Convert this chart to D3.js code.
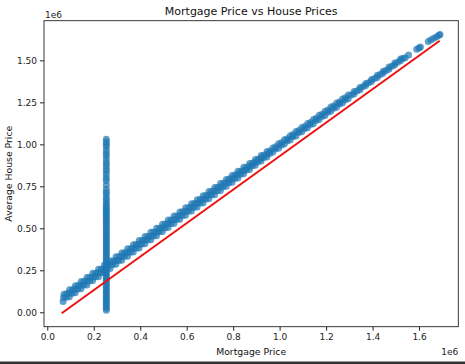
<!DOCTYPE html>
<html>
<head>
<meta charset="utf-8">
<script src="https://d3js.org/d3.v7.min.js"></script>
<style>
  body { margin: 0; background: #fff; }
  svg { display: block; font-family: "DejaVu Sans", sans-serif; }
  .tick text { fill: #222; }
  .tick line { stroke: #222; }
</style>
</head>
<body>
<div id="chart"></div>
<script>
// values in thousands
const xTicks = [0, 200, 400, 600, 800, 1000, 1200, 1400, 1600];
const yTicks = [0, 250, 500, 750, 1000, 1250, 1500];
const xTickLabels = ['0.0', '0.2', '0.4', '0.6', '0.8', '1.0', '1.2', '1.4', '1.6'];
const yTickLabels = ['0.00', '0.25', '0.50', '0.75', '1.00', '1.25', '1.50'];

// mortgage filled with one constant value for many rows
const fillMortgage = 254;
const fillHouse = [12, 24, 36, 48, 60, 72, 84, 96, 108, 120, 132, 144, 156, 168, 180, 192,
  204, 216, 228, 240, 252, 264, 276, 288, 300, 312, 324, 336, 348, 360, 372, 384, 396,
  408, 420, 432, 444, 456, 468, 480, 492, 504, 516, 528, 540, 552, 564, 576, 588, 600,
  612, 624, 636, 650, 665, 680, 700, 715, 733, 758, 785, 800, 820, 840, 855, 875, 890,
  910, 930, 945, 965, 985, 1000, 1015, 1030];

// main band [mortgage, house]
const bandPoints = [
  [68, 64], [70, 88], [72, 108], [95, 92], [95, 113], [96, 134], [120, 116], [120, 137], [121, 158],
  [145, 140], [145, 161], [146, 183], [170, 163], [170, 186], [171, 207], [195, 189], [195, 210], [196, 232],
  [220, 212], [220, 235], [221, 256], [245, 238], [245, 259], [246, 281], [270, 261], [270, 283], [271, 305],
  [295, 286], [295, 308], [296, 330], [320, 310], [320, 332], [321, 353], [345, 334], [345, 356], [346, 378],
  [370, 359], [370, 381], [371, 402], [395, 383], [395, 405], [396, 427], [420, 408], [420, 430], [421, 451],
  [445, 432], [445, 454], [446, 476], [470, 456], [470, 478], [471, 500], [495, 481], [495, 503], [496, 524],
  [520, 505], [520, 527], [521, 549], [545, 529], [545, 551], [546, 573], [570, 554], [570, 576], [571, 597],
  [595, 578], [595, 600], [596, 622], [620, 603], [620, 625], [621, 646], [645, 627], [645, 649], [646, 670],
  [670, 651], [670, 673], [671, 694], [695, 676], [695, 698], [696, 719], [720, 700], [720, 722], [721, 743],
  [745, 725], [745, 746], [746, 767], [770, 750], [770, 771], [771, 791], [795, 774], [795, 795], [796, 815],
  [820, 800], [820, 820], [821, 840], [845, 825], [845, 844], [846, 863], [870, 850], [870, 868], [871, 886],
  [895, 876], [895, 893], [896, 910], [920, 901], [920, 917], [921, 934], [945, 925], [945, 941], [946, 957],
  [970, 953], [971, 978], [995, 977], [996, 1003], [1020, 1002], [1021, 1028], [1045, 1026], [1046, 1051],
  [1070, 1050], [1071, 1076], [1095, 1075], [1096, 1100], [1120, 1099], [1121, 1124], [1145, 1123],
  [1146, 1148], [1170, 1148], [1171, 1173], [1195, 1172], [1196, 1197], [1220, 1197], [1221, 1222],
  [1245, 1221], [1246, 1246], [1270, 1246], [1271, 1270], [1295, 1271], [1296, 1294],
  [1320, 1300], [1321, 1314], [1345, 1325], [1346, 1338], [1370, 1350], [1371, 1362], [1395, 1374],
  [1396, 1386], [1420, 1398], [1421, 1411], [1445, 1423], [1446, 1435], [1470, 1447], [1471, 1460],
  [1495, 1472], [1496, 1484], [1520, 1497], [1521, 1508], [1540, 1516], [1555, 1532],
  [1590, 1566], [1600, 1574], [1606, 1580],
  [1640, 1612], [1652, 1622], [1664, 1632], [1676, 1641], [1686, 1649], [1690, 1654]
];

// more rows between the ones above
const bandPointsMid = [
  [82, 89], [83, 111], [107, 113], [108, 135], [132, 138], [133, 160], [157, 162], [158, 184],
  [182, 186], [183, 208], [207, 211], [208, 233], [232, 235], [233, 257], [257, 260], [258, 282],
  [282, 284], [283, 306], [307, 308], [308, 330], [332, 333], [333, 355], [357, 357], [358, 379],
  [382, 381], [383, 403], [407, 406], [408, 428], [432, 430], [433, 452], [457, 455], [458, 477],
  [482, 479], [483, 501], [507, 503], [508, 525], [532, 528], [533, 550], [557, 552], [558, 574],
  [582, 576], [583, 598], [607, 601], [608, 623], [632, 625], [633, 647], [657, 650], [658, 672],
  [682, 674], [683, 696], [707, 698], [708, 720], [732, 723], [733, 745], [757, 747], [758, 769],
  [782, 771], [783, 793], [807, 796], [808, 818], [832, 822], [833, 840], [857, 847], [858, 864],
  [882, 872], [883, 888], [907, 897], [908, 911], [932, 921], [933, 935], [957, 945], [958, 960],
  [982, 972], [983, 985], [1007, 995], [1008, 1010], [1032, 1020], [1033, 1033], [1057, 1045],
  [1058, 1058], [1082, 1070], [1083, 1082], [1107, 1093], [1108, 1106], [1132, 1118], [1133, 1130],
  [1157, 1142], [1158, 1155], [1182, 1166], [1183, 1179], [1207, 1191], [1208, 1204], [1232, 1215],
  [1233, 1228], [1257, 1240], [1258, 1252], [1282, 1264], [1283, 1277],
  [1308, 1293], [1333, 1318], [1358, 1343], [1383, 1367], [1408, 1392], [1433, 1416], [1458, 1440],
  [1483, 1465], [1508, 1489], [1530, 1511]
];

// fitted line ends [mortgage, house]
const fitLine = [[62, -6], [1689, 1617]];

const width = 465, height = 364;
const svg = d3.select('#chart').append('svg')
  .attr('width', width)
  .attr('height', height);

const plot = { left: 44, right: 458.3, top: 20.7, bottom: 326.7 };

const x = d3.scaleLinear().domain([-14.2, 1769]).range([plot.left, plot.right]);
const y = d3.scaleLinear().domain([-85.7, 1736]).range([plot.bottom, plot.top]);

// scatter
const points = fillHouse.map(h => [fillMortgage, h]).concat(bandPoints, bandPointsMid);
svg.append('g')
  .selectAll('circle')
  .data(points)
  .enter()
  .append('circle')
  .attr('cx', d => x(d[0]))
  .attr('cy', d => y(d[1]))
  .attr('r', 3.5)
  .attr('fill', '#1f77b4')
  .attr('fill-opacity', 0.7);

// fitted line
svg.append('path')
  .datum(fitLine)
  .attr('fill', 'none')
  .attr('stroke', '#ee1111')
  .attr('stroke-width', 2)
  .attr('d', d3.line().x(d => x(d[0])).y(d => y(d[1])));

// axes
const xAxis = svg.append('g')
  .attr('transform', `translate(0,${plot.bottom})`)
  .call(d3.axisBottom(x).tickValues(xTicks).tickSize(4).tickPadding(3)
    .tickFormat((d, i) => xTickLabels[i]));
const yAxis = svg.append('g')
  .attr('transform', `translate(${plot.left},0)`)
  .call(d3.axisLeft(y).tickValues(yTicks).tickSize(4).tickPadding(3)
    .tickFormat((d, i) => yTickLabels[i]));
[xAxis, yAxis].forEach(a => {
  a.select('.domain').remove();
  a.selectAll('text').style('font-size', '9px').style('font-family', '"DejaVu Sans", sans-serif');
});

// spines
svg.append('rect')
  .attr('x', plot.left)
  .attr('y', plot.top)
  .attr('width', plot.right - plot.left)
  .attr('height', plot.bottom - plot.top)
  .attr('fill', 'none')
  .attr('stroke', '#222')
  .attr('stroke-width', 0.9);

// texts
svg.append('text')
  .attr('x', (plot.left + plot.right) / 2)
  .attr('y', 14.5)
  .attr('text-anchor', 'middle')
  .style('font-size', '11px')
  .attr('fill', '#111')
  .text('Mortgage Price vs House Prices');

svg.append('text')
  .attr('x', (plot.left + plot.right) / 2)
  .attr('y', 355)
  .attr('text-anchor', 'middle')
  .style('font-size', '9.3px')
  .attr('fill', '#111')
  .text('Mortgage Price');

svg.append('text')
  .attr('transform', `translate(11.5,${(plot.top + plot.bottom) / 2}) rotate(-90)`)
  .attr('text-anchor', 'middle')
  .style('font-size', '9.3px')
  .attr('fill', '#111')
  .text('Average House Price');

svg.append('text')
  .attr('x', plot.left + 1)
  .attr('y', 18)
  .style('font-size', '9px')
  .attr('fill', '#222')
  .text('1e6');

svg.append('text')
  .attr('x', plot.right)
  .attr('y', 354.5)
  .attr('text-anchor', 'end')
  .style('font-size', '9px')
  .attr('fill', '#222')
  .text('1e6');

// dark frame edge at the bottom of the screenshot
svg.append('rect')
  .attr('x', 0)
  .attr('y', 361.5)
  .attr('width', width)
  .attr('height', 2.5)
  .attr('fill', '#333');
</script>
</body>
</html>
